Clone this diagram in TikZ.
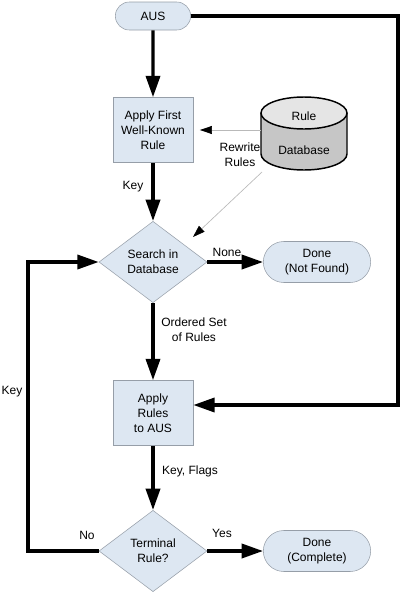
\documentclass[tikz,border=0pt]{standalone}
\usepackage{fontspec}
\setmainfont{Liberation Sans}
\usetikzlibrary{arrows.meta,shapes.geometric,shapes.misc}
\definecolor{boxfill}{RGB}{221,231,242}
\definecolor{boxline}{RGB}{150,158,168}

\begin{document}
\begin{tikzpicture}[x=0.75pt,y=-0.75pt,
    font=\fontsize{9}{11.25}\selectfont,
    process/.style={draw=boxline,fill=boxfill,minimum width=60pt,minimum height=48.75pt,align=center,inner sep=1pt},
    terminus/.style={rounded rectangle,draw=boxline,fill=boxfill,minimum width=82.5pt,minimum height=30.75pt,align=center,inner sep=1pt},
    decision/.style={diamond,draw=boxline,fill=boxfill,aspect=1.35,minimum width=81pt,minimum height=61pt,align=center,inner sep=0pt},
    flow/.style={line width=2.6pt,-{Triangle[length=16pt,width=10.5pt]}},
    feed/.style={draw=gray!55,line width=0.5pt,-{Triangle[length=9pt,width=6pt,color=black]}},
    drum/.style={x radius=32.25pt,y radius=12pt}]
    \useasboundingbox (0,0) rectangle (402,593);

    % Rule database drum
    \fill[gray!45] (261,113) -- (261,154) arc[start angle=180,end angle=360,drum] -- (347,113) -- cycle;
    \draw[line width=1.1pt,fill=gray!20] (304,113) ellipse[drum];
    \draw[line width=1.1pt] (261,113) -- (261,154) arc[start angle=180,end angle=360,drum] -- (347,113);

    % Nodes
    \node[terminus,minimum width=58.5pt,minimum height=21pt] (aus) at (153,16) {AUS};
    \node[process] (applyfirst) at (153,130) {Apply First\\Well-Known\\Rule};
    \node[minimum width=64.5pt,minimum height=55pt,inner sep=0pt,align=center] (ruledb) at (304,133) {Rule\\[14pt]Database};
    \node[decision] (search) at (153,262) {Search in\\Database};
    \node[terminus] (notfound) at (317,262) {Done\\(Not Found)};
    \node[process] (applyrules) at (153,413) {Apply\\Rules\\to AUS};
    \node[decision] (terminal) at (153,551) {Terminal\\Rule?};
    \node[terminus] (complete) at (317,551) {Done\\(Complete)};
    \coordinate (rightcorner) at (398,16);
    \coordinate (leftcorner) at (28,551);
    \coordinate (rewritetip) at (193,237);

    % Main flow
    \draw[flow] (aus) -- (applyfirst);
    \draw[flow] (applyfirst) -- (search);
    \draw[flow] (search) -- (notfound);
    \draw[flow] (search) -- (applyrules);
    \draw[flow] (applyrules) -- (terminal);
    \draw[flow] (terminal) -- (complete);
    \draw[flow] (aus.east) -- (rightcorner) |- ([yshift=6pt]applyrules.east);
    \draw[flow] (terminal.west) -- (leftcorner) |- (search.west);

    % Rule database feeds
    \draw[feed,shorten >=5pt] (ruledb.west |- applyfirst.east) -- (applyfirst.east);
    \draw[feed] ([xshift=1pt,yshift=-1.5pt]ruledb.south west) -- (rewritetip);

    % Labels
    \node (lblkey) at (133,187) {Key};
    \node[align=center] (lblrewrite) at (240,155) {Rewrite\\Rules};
    \node (lblnone) at (227,252) {None};
    \node[align=center] (lblordered) at (194,330) {Ordered Set\\of Rules};
    \node (lblloop) at (12,392) {Key};
    \node (lblflags) at (190,471) {Key, Flags};
    \node (lblno) at (87,535) {No};
    \node (lblyes) at (222,533) {Yes};
\end{tikzpicture}
\end{document}
